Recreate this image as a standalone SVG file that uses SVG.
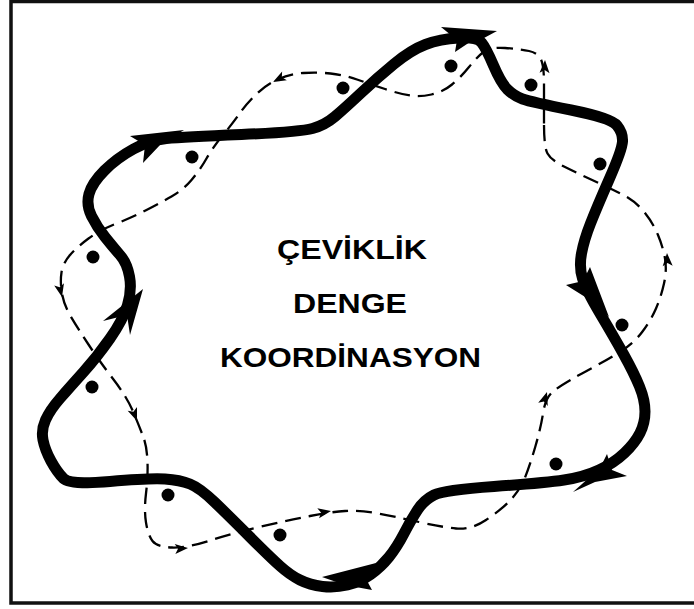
<svg xmlns="http://www.w3.org/2000/svg" xmlns:xlink="http://www.w3.org/1999/xlink" width="694" height="609" viewBox="0 0 694 609">
<style>
.frame{fill:none;stroke:#111;stroke-width:3.5}
.thick{fill:none;stroke:#000;stroke-width:11;stroke-linejoin:round;stroke-linecap:round}
.dash{fill:none;stroke:#000;stroke-width:2.3;stroke-dasharray:16 8}
.head{fill:#000}
.dot{fill:#000}
.lbl{font-family:"Liberation Sans",Arial,sans-serif;font-weight:bold;font-size:28px;fill:#000}
</style>
<defs>
<path id="ah" d="M0,0 L-13,-5 L-10,0 L-13,5 Z"/>
</defs>
<rect width="694" height="609" fill="#fff"/>
<g id="frame"><rect class="frame" x="11" y="1.5" width="720" height="601.5"/></g>

<g id="thick-loop">
<path class="thick" d="M127.5,305 Q132,290 129.5,276.5 Q127,263 120,255 Q113,247 105,237 Q97,227 91.5,216 Q86,205 89,194 Q92,183 104.5,170.5 Q117,158 133.5,149 Q150,140 166.5,138.5 Q183,137 241.5,134.5 Q300,132 312.5,128.5 Q325,125 335,116.5 Q345,108 361,93 Q377,78 394,64 Q411,50 425.5,44.5 Q440,39 458.5,38 Q477,37 481.5,42.5 Q486,48 493.5,65.5 Q501,83 507.5,89.5 Q514,96 522.5,99 Q531,102 571,110 Q611,118 617,125.5 Q623,133 622.5,141.5 Q622,150 609.5,178.5 Q597,207 590.5,223.5 Q584,240 581.5,253.5 Q579,267 582.5,278.5 Q586,290 600,313.5 Q614,337 624,355 Q634,373 639.5,386.5 Q645,400 645,411.5 Q645,423 640,433 Q635,443 624.5,453 Q614,463 599,470 Q584,477 564,480 Q544,483 494,486.5 Q444,490 434,495 Q424,500 417.5,510 Q411,520 404,533.5 Q397,547 389,557 Q381,567 370.5,574.5 Q360,582 347.5,585 Q335,588 322.5,586.5 Q310,585 300,580 Q290,575 280,566 Q270,557 250,537 Q230,517 215,502.5 Q200,488 190,484 Q180,480 165,479 Q150,478 110,481.5 Q70,485 63.5,478.5 Q57,472 51,461 Q45,450 43,440 Q41,430 45.5,420 Q50,410 60,398.5 Q70,387 83.5,372 Q97,357 110,338.5 Q123,320 127.5,305 Z"/>
<polygon class="head" points="130,136 184,130 160,145 143,163 145,145"/>
<polygon class="head" points="441,27 497,31 484,38 470,42 455,52 457,40"/>
<polygon class="head" points="566,285 583,281 590,267 609,317 590,300"/>
<polygon class="head" points="573,492 600,468 607,454 612,470 627,476 595,482"/>
<polygon class="head" points="322,577 376,563 365,577 372,590 345,585"/>
<polygon class="head" points="143,289 130,335 127,315 103,321"/>
</g>

<g id="dashed-loop">
<path class="dash" d="M544,123.5 Q544,100 544,83 Q544,66 541,59.5 Q538,53 529,51 Q520,49 505,48 Q490,47 483.5,52 Q477,57 469,67 Q461,77 452,84.5 Q443,92 431.5,94.5 Q420,97 410,95.5 Q400,94 385,89 Q370,84 357,79.5 Q344,75 330.5,73.5 Q317,72 303.5,73 Q290,74 278.5,79 Q267,84 257,93.5 Q247,103 240,113 Q233,123 223,135 Q213,147 206.5,158.5 Q200,170 191.5,180 Q183,190 171.5,196.5 Q160,203 146.5,210 Q133,217 116.5,223.5 Q100,230 88.5,238.5 Q77,247 70,255 Q63,263 61.5,272.5 Q60,282 62,293.5 Q64,305 70.5,316 Q77,327 88.5,344.5 Q100,362 113.5,379.5 Q127,397 133.5,412.5 Q140,428 143.5,437.5 Q147,447 147.5,462 Q148,477 146,493.5 Q144,510 146,522.5 Q148,535 152.5,541 Q157,547 172,547.5 Q187,548 210,540.5 Q233,533 261.5,526.5 Q290,520 310,516 Q330,512 345,511 Q360,510 378.5,513.5 Q397,517 419,522 Q441,527 456,528.5 Q471,530 486,520 Q501,510 510.5,500 Q520,490 525,477.5 Q530,465 535.5,446 Q541,427 543,413.5 Q545,400 551,393.5 Q557,387 582,373.5 Q607,360 620.5,351.5 Q634,343 642.5,331.5 Q651,320 656,308.5 Q661,297 664,283.5 Q667,270 665,258.5 Q663,247 658,235 Q653,223 645,213 Q637,203 628.5,198 Q620,193 598.5,183 Q577,173 564,166.5 Q551,160 547.5,153.5 Q544,147 544,123.5 Z"/>
<use href="#ah" class="head" transform="translate(545,60) rotate(-88)"/>
<use href="#ah" class="head" transform="translate(273,82) rotate(152)"/>
<use href="#ah" class="head" transform="translate(62,297) rotate(77)"/>
<use href="#ah" class="head" transform="translate(137,421) rotate(69)"/>
<use href="#ah" class="head" transform="translate(188,548) rotate(-4)"/>
<use href="#ah" class="head" transform="translate(331,511) rotate(-10)"/>
<use href="#ah" class="head" transform="translate(547,392) rotate(-72)"/>
<use href="#ah" class="head" transform="translate(667,253) rotate(-93)"/>
</g>

<g id="dots">
<circle class="dot" cx="343" cy="88" r="6.5"/>
<circle class="dot" cx="451" cy="66" r="6.5"/>
<circle class="dot" cx="531" cy="85" r="6.5"/>
<circle class="dot" cx="600" cy="164" r="6.5"/>
<circle class="dot" cx="622" cy="325" r="6.5"/>
<circle class="dot" cx="556" cy="464" r="6.5"/>
<circle class="dot" cx="280" cy="535" r="6.5"/>
<circle class="dot" cx="168" cy="495" r="6.5"/>
<circle class="dot" cx="92" cy="387" r="6.5"/>
<circle class="dot" cx="93" cy="257" r="6.5"/>
<circle class="dot" cx="192" cy="157" r="6.5"/>
</g>

<g id="labels">
<text class="lbl" x="277" y="259" textLength="150" lengthAdjust="spacingAndGlyphs">ÇEVİKLİK</text>
<text class="lbl" x="293" y="313" textLength="114" lengthAdjust="spacingAndGlyphs">DENGE</text>
<text class="lbl" x="220" y="367" textLength="261" lengthAdjust="spacingAndGlyphs">KOORDİNASYON</text>
</g>
</svg>
